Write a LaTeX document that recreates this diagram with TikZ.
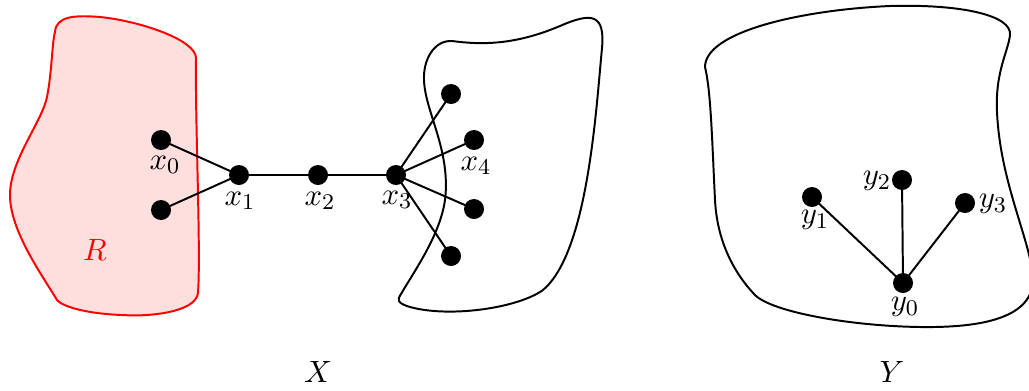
\documentclass[tikz,border=0pt]{standalone}
\begin{document}
\begin{tikzpicture}[x=0.0125cm,y=-0.0125cm,line width=0.7pt,
  dot/.style={circle,fill=black,inner sep=0pt,minimum size=0.25cm},
  lbl/.style={font=\fontsize{11}{13}\selectfont}]
\useasboundingbox (0,0) rectangle (1029,390);
% region R
\draw[red,fill=red!13] (55,32) .. controls (56,16) and (75,15) .. (100,17)
 .. controls (140,21) and (196,40) .. (196,58)
 .. controls (195,120) and (201,250) .. (198,293)
 .. controls (196,312) and (150,317) .. (122,315)
 .. controls (92,314) and (64,308) .. (57,300)
 .. controls (40,272) and (10,230) .. (10,195)
 .. controls (10,160) and (42,122) .. (47,97)
 .. controls (52,72) and (52,42) .. (55,32) -- cycle;
% blob X
\draw (401,294) .. controls (415,270) and (440,235) .. (445,200)
 .. controls (451,150) and (425,112) .. (424,80)
 .. controls (423,60) and (434,40) .. (452,41)
 .. controls (482,45) and (515,45) .. (560,26)
 .. controls (592,12) and (605,14) .. (602,48)
 .. controls (596,110) and (588,252) .. (543,290)
 .. controls (518,308) and (450,318) .. (410,307)
 .. controls (397,303) and (397,300) .. (401,294) -- cycle;
% blob Y
\draw (705,67) .. controls (705,32) and (800,10) .. (890,6)
 .. controls (960,4) and (1012,15) .. (1010,35)
 .. controls (1008,52) and (995,72) .. (997,112)
 .. controls (1000,180) and (1028,235) .. (1033,275)
 .. controls (1036,315) and (990,328) .. (920,327)
 .. controls (850,326) and (772,312) .. (755,295)
 .. controls (733,272) and (717,240) .. (715,200)
 .. controls (712,140) and (711,92) .. (705,67) -- cycle;
% nodes
\node[dot] (x0) at (161,140) {};
\node[dot] (xa) at (161,210) {};
\node[dot] (x1) at (239,175) {};
\node[dot] (x2) at (318,175) {};
\node[dot] (x3) at (396,175) {};
\node[dot] (xb) at (451,94) {};
\node[dot] (x4) at (474,140) {};
\node[dot] (xc) at (474,209) {};
\node[dot] (xd) at (451,256) {};
\node[dot] (y1) at (812,197) {};
\node[dot] (y2) at (902,180) {};
\node[dot] (y3) at (965,203) {};
\node[dot] (y0) at (903,283) {};
% edges
\draw (x0.center) -- (x1.center);
\draw (xa.center) -- (x1.center);
\draw (x1.center) -- (x2.center) -- (x3.center);
\foreach \t in {xb,x4,xc,xd} \draw (x3.center) -- (\t.center);
\foreach \t in {y1,y2,y3} \draw (y0.center) -- (\t.center);
% labels
\node[lbl] (lx0) at (165,165) {$x_0$};
\node[lbl] (lx1) at (240,201) {$x_1$};
\node[lbl] (lx2) at (320,201) {$x_2$};
\node[lbl] (lx3) at (397,200) {$x_3$};
\node[lbl] (lx4) at (476,166) {$x_4$};
\node[lbl] (ly1) at (815,220) {$y_1$};
\node[lbl] (ly2) at (877,181) {$y_2$};
\node[lbl] (ly3) at (993,204) {$y_3$};
\node[lbl] (ly0) at (905,307) {$y_0$};
\node[lbl,red] (lR) at (95,250) {$R$};
\node[lbl] (lX) at (318,372) {$X$};
\node[lbl] (lY) at (892,372) {$Y$};
\end{tikzpicture}
\end{document}
